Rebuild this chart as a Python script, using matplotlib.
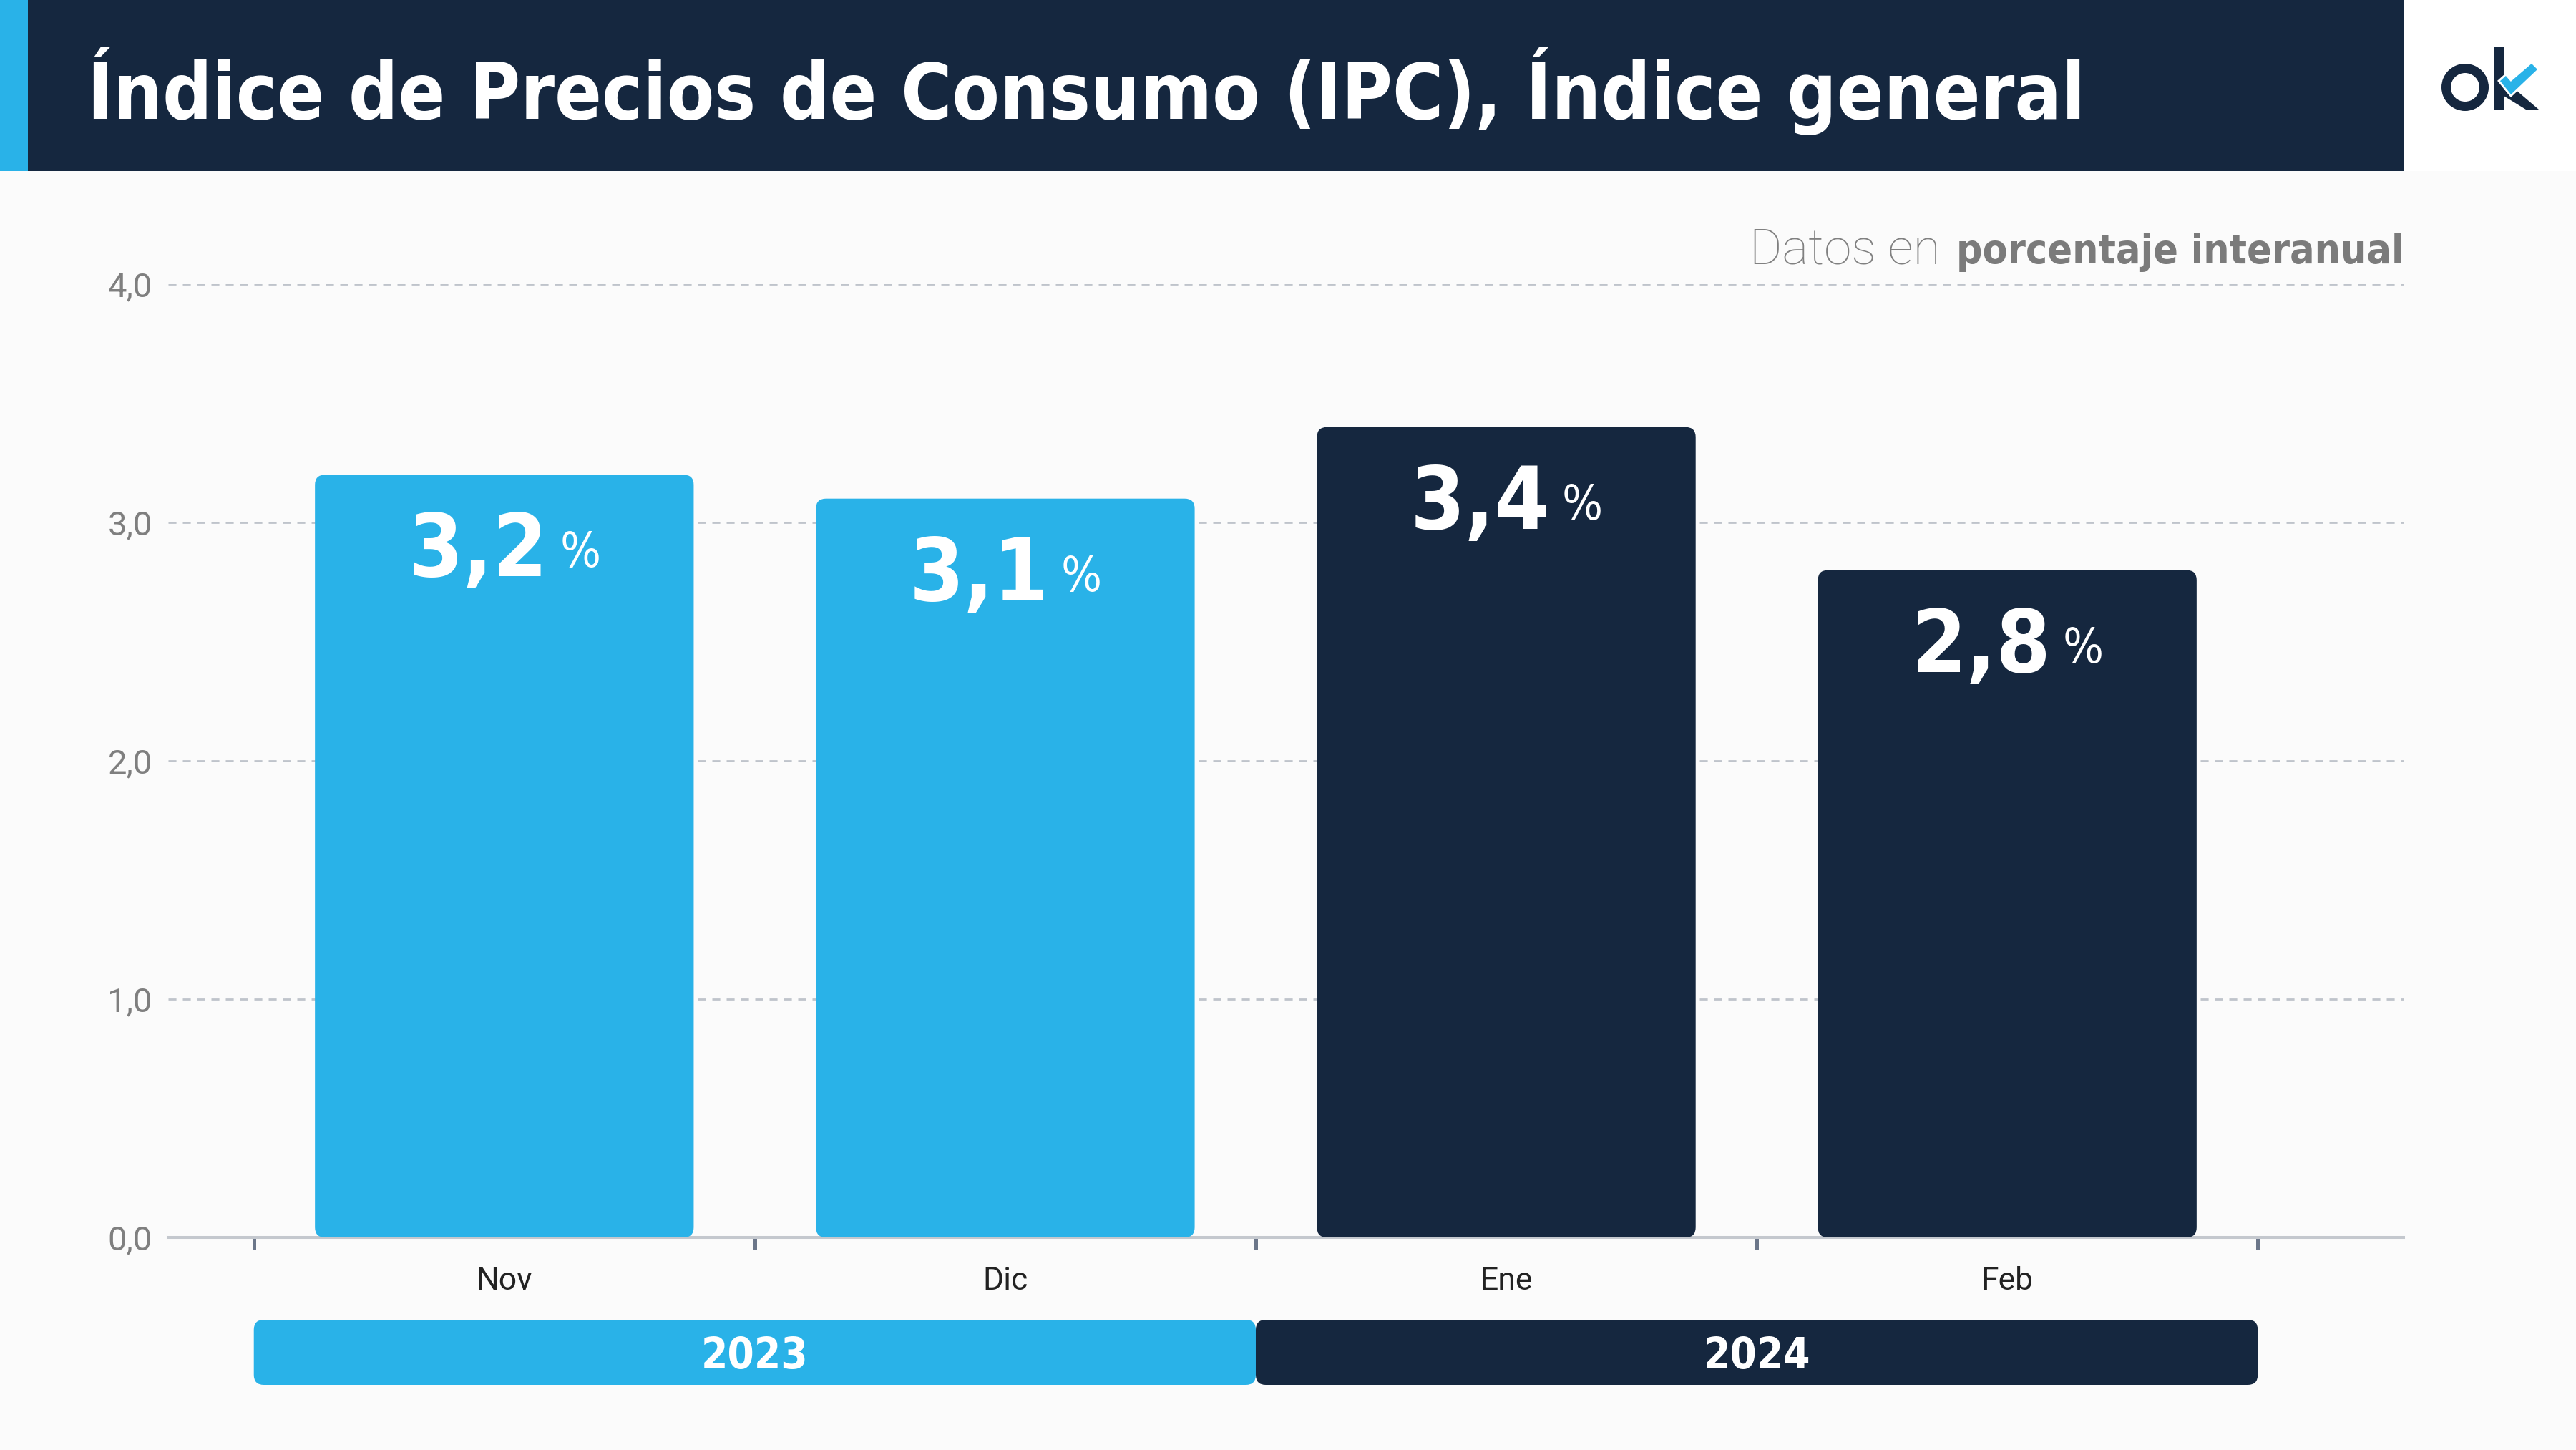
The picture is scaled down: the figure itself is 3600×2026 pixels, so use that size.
import numpy as np
import matplotlib
matplotlib.use("Agg")
import matplotlib.pyplot as plt
from matplotlib import font_manager
from matplotlib.patches import FancyBboxPatch, Rectangle, Wedge, Polygon
from matplotlib.transforms import blended_transform_factory

# data
months = ["Nov", "Dic", "Ene", "Feb"]
ipc = [3.2, 3.1, 3.4, 2.8]
years = ["2023", "2024"]
months_per_year = [2, 2]
yticks = [0, 1, 2, 3, 4]

title = "Índice de Precios de Consumo (IPC), Índice general"
subtitle_light = "Datos en"
subtitle_bold = "porcentaje interanual"

# styles
W, H = 3600, 2026
BG = "#fbfbfb"
NAVY = "#15273f"
BLUE = "#29b2e8"
year_colors = [BLUE, NAVY]
plt.rcParams["font.family"] = ["Roboto", "DejaVu Sans"]

# a condensed face if one is installed, else Roboto (narrower than DejaVu)
has_cond = any(f.name == "DejaVu Sans" and "cond" in str(f.stretch)
               for f in font_manager.fontManager.ttflist)
if has_cond:
    COND = dict(family=["DejaVu Sans"], fontstretch="condensed")
else:
    COND = dict(family=["Roboto", "DejaVu Sans"])

fig = plt.figure(figsize=(W / 100, H / 100), dpi=100, facecolor=BG)
renderer = fig.canvas.get_renderer()


def text_width(s, **props):
    t = fig.text(0, 0, s, **props)
    w = t.get_window_extent(renderer).width
    t.remove()
    return w


def fit_size(s, target_w, size, **props):
    return size * target_w / text_width(s, fontsize=size, **props)


# decoration layer in pixel coordinates
deco = fig.add_axes([0, 0, 1, 1])
deco.set_xlim(0, W)
deco.set_ylim(H, 0)
deco.axis("off")
deco.set_zorder(0)

deco.add_patch(Rectangle((0, 0), 3359, 239, color=NAVY, lw=0))
deco.add_patch(Rectangle((0, 0), 39, 239, color=BLUE, lw=0))
deco.add_patch(Rectangle((3359, 0), W - 3359, 239, color="white", lw=0))
title_size = min(99, fit_size(title, 2794, 90, fontweight="bold", **COND))
deco.text(122, 166, title, color="white", fontsize=title_size, fontweight="bold",
          va="baseline", ha="left", **COND)

# ok logo
deco.add_patch(Wedge((3445, 122), 33, 0, 360, width=13, color=NAVY, lw=0))
deco.add_patch(Rectangle((3486, 66), 13, 87, color=NAVY, lw=0))
deco.add_patch(Polygon([(3499, 126), (3514, 124), (3548, 153), (3530, 153), (3499, 134)],
                       closed=True, color=NAVY, lw=0))
deco.add_patch(Polygon([(3492, 113), (3502, 104), (3509, 112), (3538, 87), (3548, 97), (3509, 134)],
                       closed=True, fc=BLUE, ec="white", lw=2))

# subtitle
sub_size = min(52, fit_size(subtitle_bold, 625, 50, fontweight="bold", **COND))
t_bold = deco.text(3359, 368, subtitle_bold, color="#7b7b7b", fontsize=sub_size,
                   fontweight="bold", ha="right", va="baseline", **COND)
bb = t_bold.get_window_extent(renderer)
deco.text(bb.x0 - 22, 368, subtitle_light, color="#808080", fontsize=50, fontweight="light",
          ha="right", va="baseline")

# main chart
ax_left, ax_right, ax_zero, ax_top = 235, 3359, 1729, 397
ax = fig.add_axes([ax_left / W, (H - ax_zero) / H, (ax_right - ax_left) / W, (ax_zero - ax_top) / H])
ax.patch.set_alpha(0)
ax.set_zorder(1)

x = np.arange(len(months))
bar_colors = []
for yc, n in zip(year_colors, months_per_year):
    bar_colors += [yc] * n

xlim = (-0.671, 3.791)
ylim = (0, 4)
ax.set_xlim(*xlim)
ax.set_ylim(*ylim)
ppx = (ax_right - ax_left) / (xlim[1] - xlim[0])
ppy = (ax_zero - ax_top) / (ylim[1] - ylim[0])

bars = ax.bar(x, ipc, width=0.756, color=bar_colors, zorder=3)
for rect, c in zip(bars, bar_colors):
    rect.set_visible(False)
    ax.add_patch(FancyBboxPatch((rect.get_x(), rect.get_y()), rect.get_width(), rect.get_height(),
                                boxstyle="round,pad=0,rounding_size=0.02",
                                mutation_aspect=ppx / ppy, fc=c, ec="none", zorder=3))

# value labels: big number plus a small "%" centred as a group
pt = 0.72  # points per pixel at 100 dpi
num_size = 88
pct_size = 48
gap = 17
for i, v in zip(x, ipc):
    s = f"{v:.1f}".replace(".", ",")
    w_num = text_width(s, fontsize=num_size, fontweight="bold", **COND)
    w_pct = text_width("%", fontsize=pct_size, **COND)
    left = -(w_num + gap + w_pct) / 2
    ax.annotate(s, xy=(i, v), xytext=(left * pt, -142 * pt),
                textcoords="offset points", ha="left", va="baseline", fontsize=num_size,
                fontweight="bold", color="white", zorder=4, **COND)
    ax.annotate("%", xy=(i, v), xytext=((left + w_num + gap) * pt, -129 * pt),
                textcoords="offset points", ha="left", va="baseline", fontsize=pct_size,
                color="white", zorder=4, **COND)

# axes styling
for side in ["left", "top", "right"]:
    ax.spines[side].set_visible(False)
ax.spines["bottom"].set_color("#c4c8ce")
ax.spines["bottom"].set_linewidth(2.9)
ax.spines["bottom"].set_zorder(2.5)

ax.set_xticks(x)
ax.set_xticklabels(months)
ax.set_xticks([i - 0.5 for i in range(len(months) + 1)], minor=True)
ax.tick_params(axis="x", which="major", length=0, pad=29, labelsize=32, labelcolor="#222222")
ax.tick_params(axis="x", which="minor", length=12, width=3.6, color="#6b7689")

ax.set_yticks(yticks)
ax.set_yticklabels([f"{v:.1f}".replace(".", ",") for v in yticks])
ax.tick_params(axis="y", length=0, pad=16, labelsize=34, labelcolor="#7f7f7f")
ax.grid(axis="y", color="#bfc4cb", linewidth=2.0, linestyle=(0, (4.0, 3.2)))
ax.grid(axis="x", visible=False)
ax.set_axisbelow(True)

# year bands under the axis
trans = blended_transform_factory(ax.transData, fig.transFigure)
band_bottom = (H - 1935) / H
band_h = 91 / H
start = -0.5
for yr, n, c in zip(years, months_per_year, year_colors):
    end = start + n
    ax.add_patch(FancyBboxPatch((start, band_bottom), end - start, band_h,
                                boxstyle="round,pad=0,rounding_size=0.02",
                                mutation_aspect=ppx / H, fc=c, ec="none",
                                transform=trans, clip_on=False, zorder=3))
    ax.text((start + end) / 2, (H - 1912) / H, yr, transform=trans, ha="center", va="baseline",
            fontsize=43, fontweight="bold", color="white", zorder=4, clip_on=False, **COND)
    start = end

fig.savefig("out.png", dpi=100, facecolor=BG)
